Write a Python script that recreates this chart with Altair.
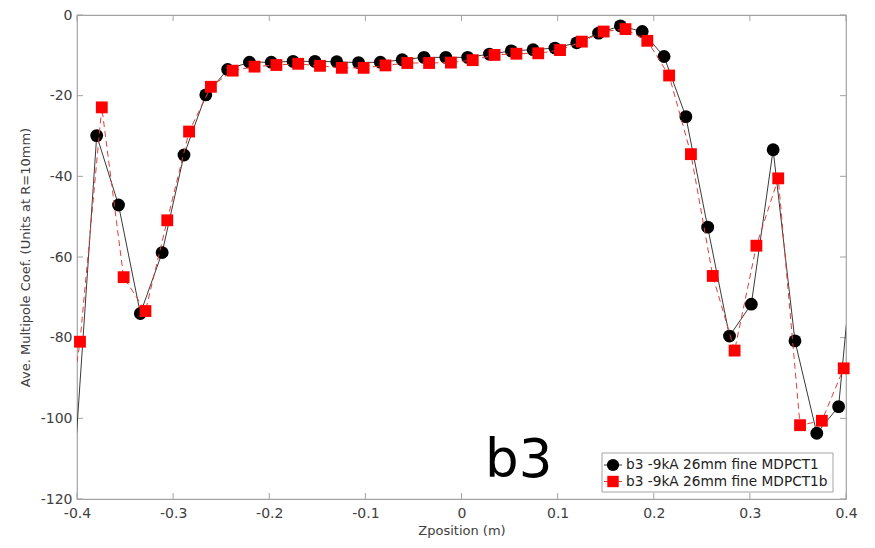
import altair as alt
import pandas as pd

# Axial scan of the b3 multipole: z position (m) and averaged coefficient (units at R=10mm)
black_x = [-0.4022, -0.3795, -0.3568, -0.3341, -0.3114, -0.2887, -0.2660, -0.2433, -0.2206,
           -0.1979, -0.1752, -0.1525, -0.1298, -0.1071, -0.0844, -0.0617, -0.0390, -0.0163,
           0.0064, 0.0291, 0.0518, 0.0745, 0.0972, 0.1199, 0.1426, 0.1653, 0.1880, 0.2107,
           0.2334, 0.2561, 0.2788, 0.3015, 0.3242, 0.3469, 0.3696, 0.3923, 0.4150]
black_y = [-110.0, -29.9, -47.1, -74.0, -58.9, -34.7, -19.8, -13.5, -11.7,
           -11.7, -11.5, -11.5, -11.6, -11.8, -11.7, -11.1, -10.5, -10.5,
           -10.5, -9.7, -8.9, -8.6, -8.2, -6.9, -4.5, -2.7, -4.1, -10.3,
           -25.2, -52.6, -79.6, -71.7, -33.4, -80.8, -103.7, -97.1, -40.0]

red_x = [-0.4196, -0.3969, -0.3742, -0.3515, -0.3288, -0.3061, -0.2834, -0.2607, -0.2380,
         -0.2153, -0.1926, -0.1699, -0.1472, -0.1245, -0.1018, -0.0791, -0.0564, -0.0337,
         -0.0110, 0.0117, 0.0344, 0.0571, 0.0798, 0.1025, 0.1252, 0.1479, 0.1706, 0.1933,
         0.2160, 0.2387, 0.2614, 0.2841, 0.3068, 0.3295, 0.3522, 0.3749, 0.3976, 0.4203]
red_y = [-118.0, -81.0, -22.9, -65.0, -73.4, -50.9, -28.9, -17.8, -13.8,
         -12.8, -12.4, -12.1, -12.6, -13.1, -13.1, -12.5, -11.9, -11.9,
         -11.8, -11.2, -9.9, -9.6, -9.5, -8.7, -6.6, -4.1, -3.5, -6.4,
         -15.0, -34.5, -64.7, -83.2, -57.2, -40.5, -101.7, -100.6, -87.6, -70.0]

x_ticks = [-0.4, -0.3, -0.2, -0.1, 0.0, 0.1, 0.2, 0.3, 0.4]
y_ticks = [-120, -100, -80, -60, -40, -20, 0]
series_names = ["b3 -9kA 26mm fine MDPCT1", "b3 -9kA 26mm fine MDPCT1b"]
panel_label = "b3"

W, H = 769, 484
FONT = "DejaVu Sans"
FRAME = "#a3a3a3"
TEXT = "#404040"

df_black = pd.DataFrame({"z": black_x, "coef": black_y})
df_red = pd.DataFrame({"z": red_x, "coef": red_y})
df_xt = pd.DataFrame({"z": x_ticks})
df_yt = pd.DataFrame({"coef": y_ticks})

xscale = alt.Scale(domain=[-0.4, 0.4], nice=False, zero=False)
yscale = alt.Scale(domain=[-120, 0], nice=False, zero=False)

xaxis = alt.Axis(
    values=x_ticks, ticks=False, domain=False, grid=False, labelFlush=False,
    title="Zposition (m)",
    labelExpr="datum.value == 0 ? '0' : (datum.value < 0 ? '-' : '') + format(abs(datum.value), '.1f')",
    labelPadding=7, titlePadding=4,
)
yaxis = alt.Axis(
    values=y_ticks, ticks=False, domain=False, grid=False, labelFlush=False,
    title="Ave. Multipole Coef. (Units at R=10mm)",
    labelExpr="(datum.value < 0 ? '-' : '') + format(abs(datum.value), 'd')",
    labelPadding=5, titlePadding=8,
)


def X(field="z"):
    return alt.X(f"{field}:Q", scale=xscale, axis=xaxis)


def Y(field="coef"):
    return alt.Y(f"{field}:Q", scale=yscale, axis=yaxis)


in_range = "datum.z >= -0.4 && datum.z <= 0.4"

black_line = alt.Chart(df_black).mark_line(color="#3a3a3a", strokeWidth=1, clip=True).encode(x=X(), y=Y())
black_pts = alt.Chart(df_black).transform_filter(in_range).mark_point(
    shape="circle", filled=True, color="#000000", size=165, opacity=1
).encode(x=X(), y=Y())
red_line = alt.Chart(df_red).mark_line(
    color="#e0403a", strokeWidth=1, strokeDash=[6, 4], clip=True
).encode(x=X(), y=Y())
red_pts = alt.Chart(df_red).transform_filter(in_range).mark_point(
    shape="square", filled=True, color="#ff0000", size=140, opacity=1
).encode(x=X(), y=Y())

# inward-pointing ticks on all four sides of the frame
tick_style = dict(color=FRAME, strokeWidth=1)
top_ticks = alt.Chart(df_xt).mark_rule(**tick_style).encode(x=X(), y=alt.value(0), y2=alt.value(6))
bottom_ticks = alt.Chart(df_xt).mark_rule(**tick_style).encode(x=X(), y=alt.value(H), y2=alt.value(H - 6))
left_ticks = alt.Chart(df_yt).mark_rule(**tick_style).encode(y=Y(), x=alt.value(0), x2=alt.value(6))
right_ticks = alt.Chart(df_yt).mark_rule(**tick_style).encode(y=Y(), x=alt.value(W), x2=alt.value(W - 6))

label_df = pd.DataFrame({"label": [panel_label]})
big_label = alt.Chart(label_df).mark_text(
    font=FONT, fontSize=53, color="#000000", align="left", baseline="alphabetic"
).encode(x=alt.value(408), y=alt.value(462), text="label:N")

# legend box
leg_df = pd.DataFrame({"name": series_names})
LX0, LX1, LY0, LY1 = 525, 756, 438, 477
ROW1, ROW2 = 450, 466.5
legend_box = alt.Chart(label_df).mark_rect(fill="white", stroke=FRAME, strokeWidth=1).encode(
    x=alt.value(LX0), x2=alt.value(LX1), y=alt.value(LY0), y2=alt.value(LY1)
)
leg_line1 = alt.Chart(label_df).mark_rule(color="#3a3a3a", strokeWidth=1).encode(
    x=alt.value(527), x2=alt.value(545), y=alt.value(ROW1)
)
leg_line2 = alt.Chart(label_df).mark_rule(color="#e0403a", strokeWidth=1, strokeDash=[4, 3]).encode(
    x=alt.value(527), x2=alt.value(545), y=alt.value(ROW2)
)
leg_pt1 = alt.Chart(label_df).mark_point(shape="circle", filled=True, color="#000000", size=150, opacity=1).encode(
    x=alt.value(536), y=alt.value(ROW1)
)
leg_pt2 = alt.Chart(label_df).mark_point(shape="square", filled=True, color="#ff0000", size=130, opacity=1).encode(
    x=alt.value(536), y=alt.value(ROW2)
)
leg_txt1 = alt.Chart(leg_df).transform_filter(f"datum.name == '{series_names[0]}'").mark_text(
    font=FONT, fontSize=13.7, color="#222222", align="left", baseline="middle"
).encode(x=alt.value(549), y=alt.value(ROW1), text="name:N")
leg_txt2 = alt.Chart(leg_df).transform_filter(f"datum.name == '{series_names[1]}'").mark_text(
    font=FONT, fontSize=13.7, color="#222222", align="left", baseline="middle"
).encode(x=alt.value(549), y=alt.value(ROW2), text="name:N")

chart = alt.layer(
    top_ticks, bottom_ticks, left_ticks, right_ticks,
    black_line, black_pts, red_line, red_pts,
    big_label,
    legend_box, leg_line1, leg_line2, leg_pt1, leg_pt2, leg_txt1, leg_txt2,
).properties(
    width=W, height=H,
    autosize="none",
    padding={"left": 77, "top": 15, "right": 29, "bottom": 49},
    background="white",
).configure_view(
    stroke=FRAME, strokeWidth=1.2
).configure_axis(
    labelFont=FONT, labelFontSize=14, labelColor=TEXT,
    titleFont=FONT, titleFontSize=13, titleColor=TEXT, titleFontWeight="normal",
)

chart.save("out.html", embed_options={"renderer": "svg", "actions": False})
